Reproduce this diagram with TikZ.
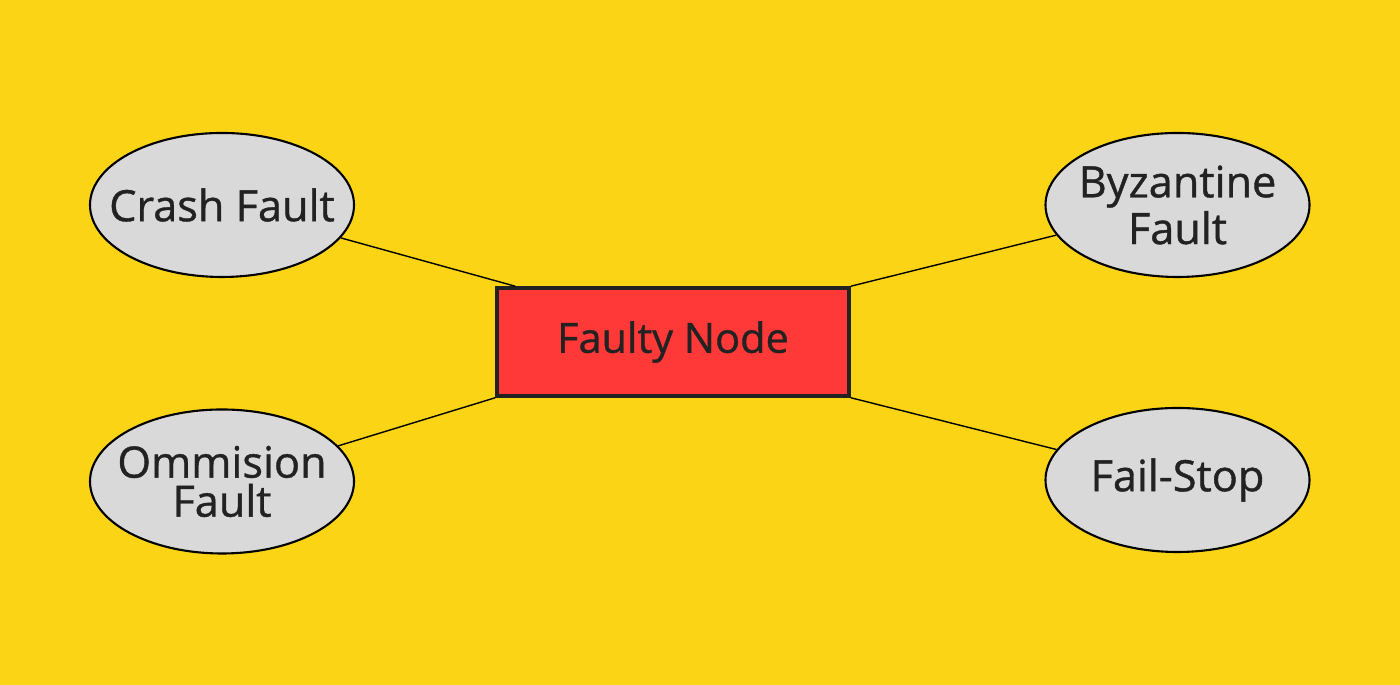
\documentclass[tikz,border=0pt]{standalone}
\usepackage{fontspec}
\setmainfont{Open Sans}[FakeBold=0.9]
\usetikzlibrary{shapes,positioning,calc}

\definecolor{bgyellow}{HTML}{FCD416}
\definecolor{nodered}{HTML}{FF3838}
\definecolor{faultgray}{HTML}{D9D9D9}
\definecolor{inkdark}{HTML}{222222}

\tikzset{
  fault/.style={draw, ellipse, line width=0.6pt, fill=faultgray, text=inkdark,
    minimum width=2.64cm, minimum height=1.44cm, inner xsep=-5mm, inner ysep=0pt,
    align=center, font=\fontsize{12.3}{11.1}\selectfont},
  link/.style={line width=0.4pt}
}

\begin{document}
\begin{tikzpicture}

% Background
\fill[bgyellow] (0,0) rectangle (14,6.85);
\useasboundingbox (0,0) rectangle (14,6.85);

% Central node
\node[draw=inkdark, rectangle, line width=1pt, fill=nodered, text=inkdark,
  minimum width=3.52cm, minimum height=1.08cm,
  font=\fontsize{11.8}{13}\selectfont] (faulty) at (6.73, 3.43) {Faulty Node};

% Fault types
\node[fault] (crash) at (2.22, 4.80) {Crash Fault};
\node[fault] (byzantine) at (11.775, 4.80) {Byzantine\\Fault};
\node[fault] (omission) at (2.22, 2.035) {Ommision\\Fault};
\node[fault] (failstop) at (11.775, 2.05) {Fail-Stop};

% Links
\draw[link] (crash) -- ([xshift=2mm]faulty.north west);
\draw[link] (byzantine) -- (faulty.north east);
\draw[link] (omission) -- (faulty.south west);
\draw[link] (failstop) -- (faulty.south east);

\end{tikzpicture}
\end{document}
